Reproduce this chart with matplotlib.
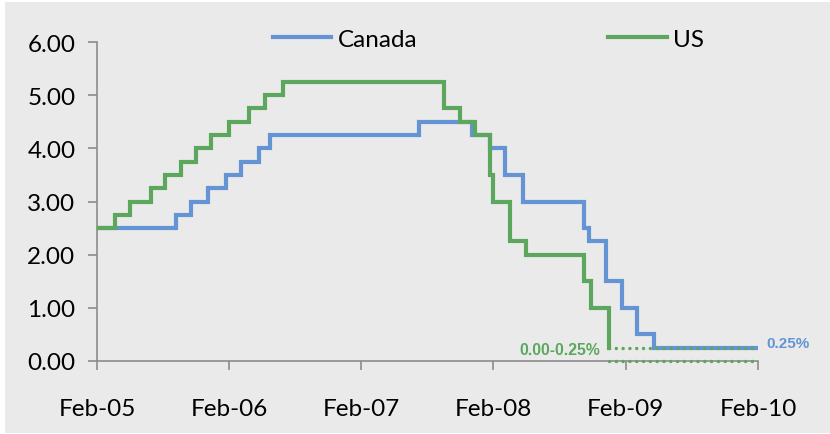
import matplotlib
matplotlib.use("Agg")
import matplotlib.pyplot as plt
import matplotlib.dates as mdates
from matplotlib.patches import Rectangle
import numpy as np

# Policy rate changes (effective date, new rate in %)
canada_dates = ["2005-02-01", "2005-09-07", "2005-10-18", "2005-12-06", "2006-01-24",
                "2006-03-07", "2006-04-25", "2006-05-24", "2007-07-10", "2007-12-04",
                "2008-01-22", "2008-03-04", "2008-04-22", "2008-10-08", "2008-10-21",
                "2008-12-09", "2009-01-20", "2009-03-03", "2009-04-21", "2010-02-01"]
canada_rates = [2.50, 2.75, 3.00, 3.25, 3.50, 3.75, 4.00, 4.25, 4.50, 4.25,
                4.00, 3.50, 3.00, 2.50, 2.25, 1.50, 1.00, 0.50, 0.25, 0.25]

us_dates = ["2005-02-01", "2005-03-22", "2005-05-03", "2005-06-30", "2005-08-09",
            "2005-09-20", "2005-11-01", "2005-12-13", "2006-01-31", "2006-03-28",
            "2006-05-10", "2006-06-29", "2007-09-18", "2007-10-31", "2007-12-11",
            "2008-01-22", "2008-01-30", "2008-03-18", "2008-04-30", "2008-10-08",
            "2008-10-29", "2008-12-16"]
us_rates = [2.50, 2.75, 3.00, 3.25, 3.50, 3.75, 4.00, 4.25, 4.50, 4.75,
            5.00, 5.25, 4.75, 4.50, 4.25, 3.50, 3.00, 2.25, 2.00, 1.50,
            1.00, 0.25]

# Fed target range since Dec 2008
us_range_start = "2008-12-16"
us_range_end = "2010-01-28"
us_range_low = 0.00
us_range_high = 0.25

canada_label = "0.25%"
us_range_label = "0.00-0.25%"

x_ticks = ["2005-02-01", "2006-02-01", "2007-02-01", "2008-02-01", "2009-02-01", "2010-02-01"]
y_ticks = [0, 1, 2, 3, 4, 5, 6]

BLUE = "#6494D4"
GREEN = "#5CA65E"
AXIS = "#8C8C8C"
BG = "#EAEAEA"

to_dt = lambda seq: np.array(seq, dtype="datetime64[D]")

plt.rcParams["font.family"] = ["Lato", "DejaVu Sans"]

fig = plt.figure(figsize=(8.3, 4.35), dpi=100, facecolor="white")
fig.patches.append(Rectangle((5 / 830, 1 / 435), 825 / 830, 431 / 435,
                             transform=fig.transFigure, facecolor=BG,
                             edgecolor="none", zorder=-10))
ax = fig.add_axes([97 / 830, 1 - 362 / 435, (758 - 97) / 830, (362 - 43) / 435])
ax.set_facecolor("none")

ax.step(to_dt(canada_dates), canada_rates, where="post", color=BLUE, lw=3.0,
        label="Canada", zorder=3, solid_joinstyle="miter")
ax.step(to_dt(us_dates), us_rates, where="post", color=GREEN, lw=3.0,
        label="US", zorder=4, solid_joinstyle="miter")

rx = to_dt([us_range_start, us_range_end])
for lvl in (us_range_high, us_range_low):
    ax.plot(rx, [lvl, lvl], color=GREEN, lw=2.5, linestyle=(0, (0.01, 1.95)),
            dash_capstyle="round", zorder=5, clip_on=False)

ax.annotate(us_range_label, xy=(to_dt([us_range_start])[0], us_range_high),
            xytext=(-6.5, -1), textcoords="offset points", ha="right", va="center",
            color=GREEN, fontsize=11.3, fontweight="bold", family="Liberation Sans")
ax.annotate(canada_label, xy=(to_dt([canada_dates[-1]])[0], canada_rates[-1]),
            xytext=(5.8, 3.2), textcoords="offset points", ha="left", va="center",
            color=BLUE, fontsize=11, fontweight="bold", family="Liberation Sans")

ax.set_xlim(to_dt([x_ticks[0]])[0], to_dt([x_ticks[-1]])[0])
ax.set_ylim(0, 6)
ax.set_xticks(to_dt(x_ticks))
ax.xaxis.set_major_formatter(mdates.DateFormatter("%b-%y"))
ax.set_yticks(y_ticks)
ax.set_yticklabels([f"{v:.2f}" for v in y_ticks])

for side in ("top", "right"):
    ax.spines[side].set_visible(False)
for side in ("left", "bottom"):
    ax.spines[side].set_color(AXIS)
    ax.spines[side].set_linewidth(1.2)
ax.tick_params(axis="both", colors=AXIS, width=1.2, length=6.5, labelcolor="black",
               labelsize=17.5)
ax.tick_params(axis="y", pad=9)
ax.tick_params(axis="x", pad=20)

fig.legend(loc="center left", bbox_to_anchor=(273 / 830, 1 - 40 / 435), ncol=2,
           frameon=False, fontsize=17.5, handlelength=2.4, handletextpad=0.25,
           columnspacing=7.87, borderpad=0, borderaxespad=0)

fig.savefig("out.png", dpi=100, facecolor="white")
